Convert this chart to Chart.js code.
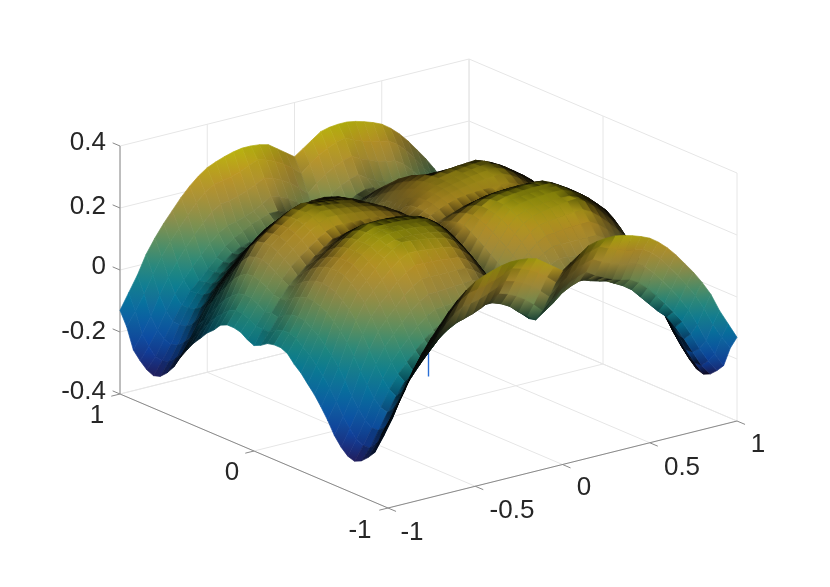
<!DOCTYPE html>
<html><head><meta charset="utf-8">
<style>html,body{margin:0;padding:0;background:#fff}canvas{display:block}</style>
<script src="https://cdn.jsdelivr.net/npm/chart.js@4"></script>
</head><body><canvas id="c" width="830" height="587"></canvas>
<script>
const xTicks=[-1,-0.5,0,0.5,1];
const yTicks=[-1,0,1];
const zTicks=[-0.4,-0.2,0,0.2,0.4];
const xTickLabels=['-1','-0.5','0','0.5','1'];
const yTickLabels=['-1','0','1'];
const zTickLabels=['-0.4','-0.2','0','0.2','0.4'];
// surface heights; columns are |x| = 0, .05 ... 1
// front half (y<0): rows |y| = 0 ... .75
const zF00=[.18,.19,.20,.21,.22,.225,.23,.235,.235,.23,.225,.22,.20,.18,.155,.13,.105,.07,.03,-.015,-.06];
const zF01=[.185,.203,.218,.23,.239,.245,.25,.25,.248,.246,.245,.234,.217,.196,.174,.15,.116,.074,.026,-.014,-.05];
const zF02=[.19,.213,.231,.246,.258,.265,.268,.27,.268,.266,.265,.254,.236,.216,.194,.17,.135,.092,.043,.002,-.035];
const zF03=[.19,.217,.24,.258,.271,.28,.284,.286,.287,.286,.285,.273,.255,.233,.21,.185,.148,.103,.052,.009,-.03];
const zF04=[.185,.217,.243,.264,.28,.288,.292,.295,.297,.297,.297,.285,.267,.245,.22,.195,.157,.11,.056,.01,-.03];
const zF05=[.165,.204,.237,.263,.282,.29,.293,.296,.298,.298,.298,.287,.27,.25,.226,.20,.159,.109,.051,.003,-.04];
const zF06=[.145,.19,.228,.258,.28,.29,.293,.296,.298,.299,.298,.287,.27,.25,.226,.20,.155,.10,.036,-.017,-.065];
const zF07=[.125,.175,.216,.249,.274,.285,.29,.293,.295,.296,.295,.284,.268,.248,.222,.195,.148,.09,.022,-.034,-.084];
const zF08=[.105,.158,.201,.236,.263,.275,.28,.283,.285,.286,.285,.274,.257,.236,.21,.18,.131,.07,0,-.058,-.11];
const zF09=[.09,.143,.186,.221,.248,.265,.271,.276,.28,.283,.285,.27,.248,.22,.191,.16,.11,.048,-.023,-.082,-.135];
const zF10=[.075,.126,.169,.203,.228,.245,.25,.253,.256,.259,.26,.245,.222,.195,.166,.135,.084,.021,-.052,-.112,-.166];
const zF11=[.06,.108,.148,.18,.204,.22,.223,.226,.228,.229,.23,.214,.191,.162,.133,.10,.049,-.014,-.086,-.146,-.2];
const zF12=[.045,.09,.128,.158,.18,.195,.195,.195,.195,.195,.195,.179,.155,.125,.094,.06,.009,-.054,-.126,-.186,-.24];
const zF13=[.035,.074,.107,.133,.152,.165,.162,.16,.158,.156,.155,.139,.115,.085,.054,.02,-.029,-.089,-.159,-.216,-.268];
const zF14=[.03,.063,.09,.113,.129,.14,.133,.126,.121,.118,.115,.099,.075,.045,.014,-.02,-.066,-.122,-.186,-.24,-.288];
const zF15=[.025,.054,.077,.096,.11,.12,.108,.098,.09,.084,.08,.064,.041,.012,-.018,-.05,-.092,-.143,-.202,-.251,-.295];
// back half (y>0): rows |y| = 0 ... .75
const zB00=zF00;
const zB01=[.185,.202,.215,.226,.235,.24,.242,.243,.244,.245,.245,.234,.217,.196,.174,.15,.116,.074,.026,-.014,-.05];
const zB02=[.19,.208,.223,.235,.244,.25,.255,.258,.261,.264,.265,.253,.235,.213,.19,.165,.131,.089,.041,0,-.035];
const zB03=[.19,.21,.226,.239,.249,.255,.261,.266,.27,.273,.275,.264,.246,.226,.204,.18,.144,.10,.05,.008,-.03];
const zB04=[.185,.207,.225,.239,.25,.257,.264,.27,.274,.278,.28,.269,.253,.233,.213,.19,.153,.106,.054,.01,-.03];
const zB05=[.165,.193,.216,.235,.249,.258,.264,.269,.273,.276,.278,.267,.252,.232,.212,.19,.151,.103,.047,.001,-.04];
const zB06=[.145,.178,.206,.228,.245,.256,.261,.265,.268,.27,.272,.262,.246,.227,.207,.185,.143,.09,.03,-.02,-.065];
const zB07=[.125,.163,.194,.219,.238,.25,.25,.25,.25,.25,.25,.239,.223,.203,.183,.16,.119,.067,.009,-.04,-.084];
const zB08=[.105,.146,.179,.206,.227,.24,.235,.23,.226,.224,.222,.21,.193,.172,.149,.125,.085,.036,-.021,-.068,-.11];
const zB09=[.09,.132,.167,.195,.216,.23,.221,.213,.208,.203,.20,.187,.167,.143,.118,.09,.052,.005,-.05,-.095,-.135];
const zB10=[.075,.117,.152,.18,.201,.215,.203,.193,.185,.179,.175,.161,.139,.113,.085,.055,.017,-.029,-.082,-.126,-.166];
const zB11=[.06,.102,.137,.165,.186,.20,.183,.17,.159,.15,.145,.13,.107,.08,.051,.02,-.017,-.06,-.11,-.156,-.20];
const zB12=[.045,.086,.119,.146,.167,.18,.16,.143,.129,.119,.112,.097,.074,.046,.017,-.015,-.053,-.1,-.157,-.203,-.24];
const zB13=[.035,.074,.107,.133,.151,.16,.136,.116,.10,.088,.08,.065,.043,.015,-.014,-.045,-.083,-.13,-.183,-.228,-.268];
const zB14=[.03,.063,.09,.113,.129,.14,.115,.093,.076,.064,.055,.041,.02,-.005,-.031,-.06,-.099,-.147,-.201,-.247,-.288];
const zB15=[.025,.054,.077,.096,.11,.12,.099,.082,.068,.057,.05,.036,.016,-.01,-.036,-.065,-.104,-.152,-.208,-.254,-.295];
// outer rows shared by both halves: |y| = .8 ... 1
const zE16=[.03,.05,.07,.095,.11,.12,.12,.11,.10,.085,.07,.05,.02,-.01,-.04,-.065,-.105,-.15,-.2,-.25,-.285];
const zE17=[.07,.097,.12,.138,.151,.16,.142,.127,.115,.106,.10,.083,.058,.027,-.005,-.04,-.078,-.126,-.18,-.226,-.265];
const zE18=[.125,.15,.172,.189,.202,.21,.195,.183,.172,.165,.16,.142,.115,.082,.048,.01,-.032,-.085,-.145,-.195,-.24];
const zE19=[.18,.204,.224,.24,.252,.26,.247,.235,.226,.22,.215,.197,.17,.137,.102,.065,.024,-.026,-.083,-.131,-.174];
const zE20=[.225,.245,.265,.285,.292,.295,.295,.29,.282,.272,.26,.24,.215,.185,.15,.115,.075,.03,-.03,-.08,-.13];
const zFront=[zF00,zF01,zF02,zF03,zF04,zF05,zF06,zF07,zF08,zF09,zF10,zF11,zF12,zF13,zF14,zF15,zE16,zE17,zE18,zE19,zE20];
const zBack=[zB00,zB01,zB02,zB03,zB04,zB05,zB06,zB07,zB08,zB09,zB10,zB11,zB12,zB13,zB14,zB15,zE16,zE17,zE18,zE19,zE20];
const spikeZ=[-0.3,0.1];
const parula=[[53,42,135],[15,92,221],[20,129,214],[6,164,202],[46,183,164],[135,191,119],[209,187,89],[254,200,50],[249,251,14]];
const cMin=-0.3,cMax=0.305;

const P=(x,y,z)=>({x:388+174.5*(x+1)-134*(y+1),y:508-43.5*(x+1)-57*(y+1)-310*(z+0.4)});
const N=40, meshPerCell=2.75, meshW=0.68, meshInk=0.97;
const Z=(i,j)=>(j<20?zFront:zBack)[Math.abs(j-20)][Math.abs(i-20)];
const V=[];
for(let i=0;i<=N;i++){V[i]=[];for(let j=0;j<=N;j++){V[i][j]=P(-1+i/20,-1+j/20,Z(i,j));}}
const covCell=[];
for(let i=0;i<N;i++){covCell[i]=[];for(let j=0;j<N;j++){
  const a=V[i][j],b=V[i+1][j],c=V[i+1][j+1],d=V[i][j+1];
  const ex=[(b.x+c.x-a.x-d.x)/2,(b.y+c.y-a.y-d.y)/2],ey=[(d.x+c.x-a.x-b.x)/2,(d.y+c.y-a.y-b.y)/2];
  const area=Math.abs(ex[0]*ey[1]-ex[1]*ey[0])+0.01;
  const d1=area/Math.hypot(...ex)/meshPerCell,d2=area/Math.hypot(...ey)/meshPerCell;
  covCell[i][j]=Math.min(0.99,1-(1-Math.min(1,meshW/d1))*(1-Math.min(1,meshW/d2)));
}}
function covVert(i,j){let s=0,n=0;for(const [a,b] of [[i-1,j-1],[i,j-1],[i-1,j],[i,j]]){if(a>=0&&b>=0&&a<N&&b<N){s+=covCell[a][b];n++;}}return s/n;}
function colour(z,cov){
  const t=Math.min(1,Math.max(0,(z-cMin)/(cMax-cMin)))*(parula.length-1);
  const k=Math.min(parula.length-2,Math.floor(t)),f=t-k;
  const s=1-cov*meshInk;
  const c=[0,1,2].map(n=>Math.round((parula[k][n]*(1-f)+parula[k+1][n]*f)*s));
  return `rgb(${c[0]},${c[1]},${c[2]})`;
}
const ctx=document.getElementById('c').getContext('2d');
const datasets=[];
const base={type:'line',pointRadius:0,tension:0,fill:false};
for(let i=0;i<N;i++){for(let j=0;j<N;j++){
  const idx=[[i,j],[i+1,j],[i+1,j+1],[i,j+1]];
  const zs=idx.map(([a,b])=>Z(a,b));
  let lo=0,hi=0;zs.forEach((z,k)=>{if(z<zs[lo])lo=k;if(z>zs[hi])hi=k;});
  const pl=V[idx[lo][0]][idx[lo][1]],ph=V[idx[hi][0]][idx[hi][1]];
  const cl=colour(zs[lo],covVert(...idx[lo])),ch=colour(zs[hi],covVert(...idx[hi]));
  let g=cl;
  if(Math.hypot(ph.x-pl.x,ph.y-pl.y)>0.5&&lo!==hi){g=ctx.createLinearGradient(pl.x,pl.y,ph.x,ph.y);g.addColorStop(0,cl);g.addColorStop(1,ch);}
  const q=idx.map(([a,b])=>V[a][b]);
  datasets.push({...base,data:[q[0],q[1],q[2],q[3],q[0]],fill:'shape',backgroundColor:g,borderColor:g,borderWidth:0.7});
}}
function seg(p,q,color,w){datasets.push({...base,data:[p,q],borderColor:color,borderWidth:w});}
seg(P(0,0,spikeZ[0]),P(0,0,spikeZ[1]),'#2a6fd6',1.4);
const axisC='#8a8a8a',gridC='#e6e6e6';
seg(P(-1,1,-0.4),P(-1,1,0.4),axisC,1);
seg(P(-1,-1,-0.4),P(1,-1,-0.4),axisC,1);
seg(P(-1,-1,-0.4),P(-1,1,-0.4),axisC,1);
xTicks.forEach(t=>{seg(P(t,-1,-0.4),P(t,-1.06,-0.4),axisC,1);});
yTicks.forEach(t=>{seg(P(-1,t,-0.4),P(-1.05,t,-0.4),axisC,1);});
zTicks.forEach(t=>{seg(P(-1,1,t),P(-1,1.055,t),axisC,1);});
xTicks.forEach(t=>{seg(P(t,-1,-0.4),P(t,1,-0.4),gridC,1);seg(P(t,1,-0.4),P(t,1,0.4),gridC,1);});
yTicks.forEach(t=>{seg(P(-1,t,-0.4),P(1,t,-0.4),gridC,1);seg(P(1,t,-0.4),P(1,t,0.4),gridC,1);});
zTicks.forEach(t=>{seg(P(-1,1,t),P(1,1,t),gridC,1);seg(P(1,1,t),P(1,-1,t),gridC,1);});

const xLabelPos=[[412,533],[512,511],[584,488],[682,468],[758,445]];
const yLabelPos=[[360,531],[232,473],[97,416]];
const zLabelPos=[[106,392],[106,332],[106,267],[106,207],[106,143]];
const labelPlugin={id:'labels',afterDraw(ch){
  const g=ch.ctx,sx=ch.scales.x,sy=ch.scales.y;
  g.save();g.font='26px "Liberation Sans"';g.fillStyle='#262626';g.textBaseline='middle';
  const put=(t,p,al)=>{g.textAlign=al;g.fillText(t,sx.getPixelForValue(p[0]),sy.getPixelForValue(p[1]));};
  xTickLabels.forEach((t,i)=>put(t,xLabelPos[i],'center'));
  yTickLabels.forEach((t,i)=>put(t,yLabelPos[i],'center'));
  zTickLabels.forEach((t,i)=>put(t,zLabelPos[i],'right'));
  g.restore();
}};
new Chart(document.getElementById('c'),{type:'line',data:{datasets},plugins:[labelPlugin],options:{
  responsive:false,animation:false,events:[],parsing:false,normalized:true,
  layout:{padding:0},
  plugins:{legend:{display:false},tooltip:{enabled:false},title:{display:false}},
  scales:{x:{type:'linear',min:0,max:830,display:false},y:{type:'linear',min:0,max:587,reverse:true,display:false}}
}});
</script></body></html>
